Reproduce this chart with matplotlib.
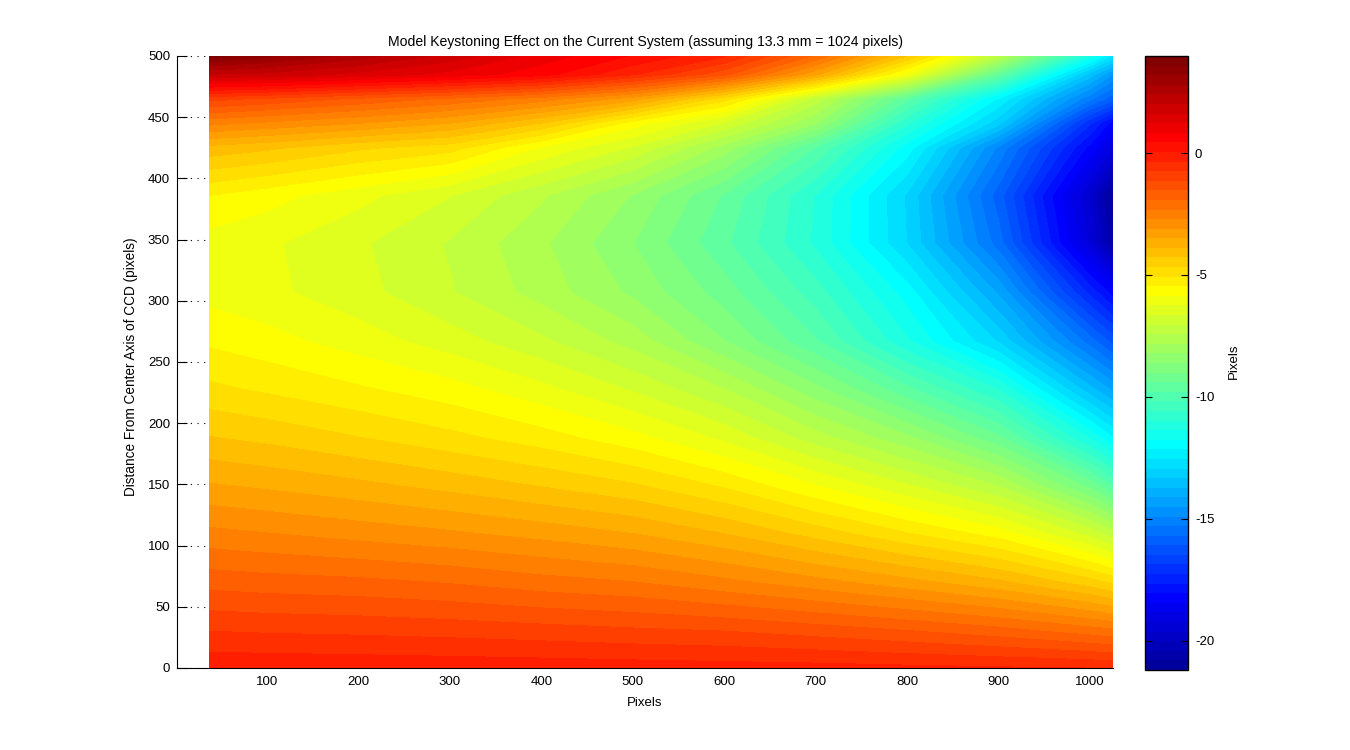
#!/usr/bin/env python3
import numpy as np
import matplotlib
matplotlib.use('Agg')
import matplotlib.pyplot as plt
from matplotlib.colors import LinearSegmentedColormap, ListedColormap

plt.rcParams['font.family'] = ['Liberation Sans', 'DejaVu Sans']
plt.rcParams['axes.unicode_minus'] = False

# values
col_px = [37, 100, 200, 300, 400, 500, 600, 700, 800, 900, 1000, 1024]
row_dist = [0, 30, 70, 110, 149, 188, 228, 267, 307, 347, 386, 425, 445, 465, 485, 500]

row_0 = [-0.05, -0.06, -0.08, -0.1, -0.12, -0.15, -0.18, -0.2, -0.25, -0.3, -0.35, -0.4]
row_30 = [-0.74, -0.78, -0.82, -0.88, -0.96, -1.05, -1.13, -1.3, -1.5, -1.75, -2.1, -2.2]
row_70 = [-1.68, -1.75, -1.82, -1.95, -2.15, -2.3, -2.6, -2.95, -3.35, -3.8, -4.5, -4.75]
row_110 = [-2.6, -2.7, -2.87, -3.04, -3.25, -3.5, -3.9, -4.45, -5.05, -5.66, -6.8, -7.27]
row_149 = [-3.45, -3.57, -3.78, -4.03, -4.31, -4.62, -5.13, -5.85, -6.6, -7.45, -9.13, -9.8]
row_188 = [-4.26, -4.39, -4.66, -4.95, -5.28, -5.72, -6.35, -7.25, -8.13, -9.3, -11.4, -12.1]
row_228 = [-4.98, -5.14, -5.41, -5.7, -6.14, -6.7, -7.43, -8.5, -9.7, -11.0, -13.6, -14.2]
row_267 = [-5.54, -5.71, -6.05, -6.45, -6.95, -7.6, -8.6, -9.75, -11.3, -13.0, -15.5, -16.2]
row_307 = [-6.0, -6.15, -6.5, -7.0, -7.6, -8.3, -9.2, -10.4, -11.95, -14.2, -17.4, -18.2]
row_347 = [-6.03, -6.18, -6.58, -7.08, -7.75, -8.6, -9.7, -11.05, -12.95, -15.5, -19.3, -20.6]
row_386 = [-5.46, -5.7, -6.12, -6.63, -7.37, -8.25, -9.45, -11.0, -13.0, -15.9, -19.6, -21.0]
row_425 = [-4.03, -4.2, -4.6, -4.9, -5.9, -6.7, -8.0, -9.8, -11.95, -15.0, -18.2, -19.2]
row_445 = [-2.6, -2.8, -3.1, -3.5, -4.3, -5.66, -6.7, -8.2, -10.9, -13.2, -17.2, -18.2]
row_465 = [-1.0, -1.2, -1.6, -2.0, -2.5, -3.3, -4.9, -7.2, -9.7, -12.2, -15.2, -15.9]
row_485 = [2.0, 1.9, 1.5, 1.1, 0.6, -0.3, -1.4, -3.4, -6.0, -9.5, -13.5, -14.5]
row_500 = [3.75, 3.3, 2.6, 1.85, 1.05, 0.4, -0.3, -2.0, -4.3, -7.4, -11.4, -12.6]

cbar_ticks = [-20, -15, -10, -5, 0]
y_ticks = [0, 50, 100, 150, 200, 250, 300, 350, 400, 450, 500]
x_ticks = [100, 200, 300, 400, 500, 600, 700, 800, 900, 1000]

z = np.array([row_0, row_30, row_70, row_110, row_149, row_188, row_228,
              row_267, row_307, row_347, row_386, row_425, row_445, row_465,
              row_485, row_500])

# the old matlab jet, breakpoints differ from the matplotlib one
jet_m = LinearSegmentedColormap('jet_m', {
    'red': [(0, 0, 0), (0.375, 0, 0), (0.625, 1, 1), (0.875, 1, 1), (1, 0.5, 0.5)],
    'green': [(0, 0, 0), (0.125, 0, 0), (0.375, 1, 1), (0.625, 1, 1), (0.875, 0, 0), (1, 0, 0)],
    'blue': [(0, 0.5625, 0.5625), (0.125, 1, 1), (0.375, 1, 1), (0.625, 0, 0), (1, 0, 0)],
}, N=1024)
bands = ListedColormap(jet_m(np.arange(1, 65) / 64))

fig = plt.figure(figsize=(13.5, 7.5), dpi=100)
ax = fig.add_axes([177/1350, 82/750, 936/1350, 612/750])

levels = np.linspace(-21.2, 3.98, 65)
cs = ax.contourf(col_px, row_dist, z, levels=levels, cmap=bands, antialiased=False)

ax.set_xlim(1.5, 1025)
ax.set_ylim(0, 500)
ax.set_xticks(x_ticks)
ax.set_yticks(y_ticks)
ax.tick_params(direction='in', length=7.2, width=0.8, labelsize=9.5)
ax.tick_params(axis='x', pad=6)
ax.tick_params(axis='y', pad=5)
ax.set_axisbelow(True)
ax.yaxis.grid(True, color='k', linestyle=(0, (1, 5)), linewidth=0.8)
ax.spines['top'].set_visible(False)
ax.spines['right'].set_visible(False)
ax.set_title('Model Keystoning Effect on the Current System (assuming 13.3 mm = 1024 pixels)',
             fontsize=10.1, pad=7)
ax.set_xlabel('Pixels', fontsize=9.5, labelpad=6)
ax.set_ylabel('Distance From Center Axis of CCD (pixels)', fontsize=9.8, labelpad=7, y=0.492)

cax = fig.add_axes([1145/1350, 80/750, 43/1350, 614/750])
cb = fig.colorbar(cs, cax=cax)
cb.set_ticks(cbar_ticks)
cb.ax.tick_params(direction='in', length=5, width=0.8, left=True, right=True, labelsize=9.5, pad=5)
cb.outline.set_linewidth(1)
cb.set_label('Pixels', fontsize=9.5, labelpad=10, y=0.503)

fig.savefig('out.png', dpi=100)
